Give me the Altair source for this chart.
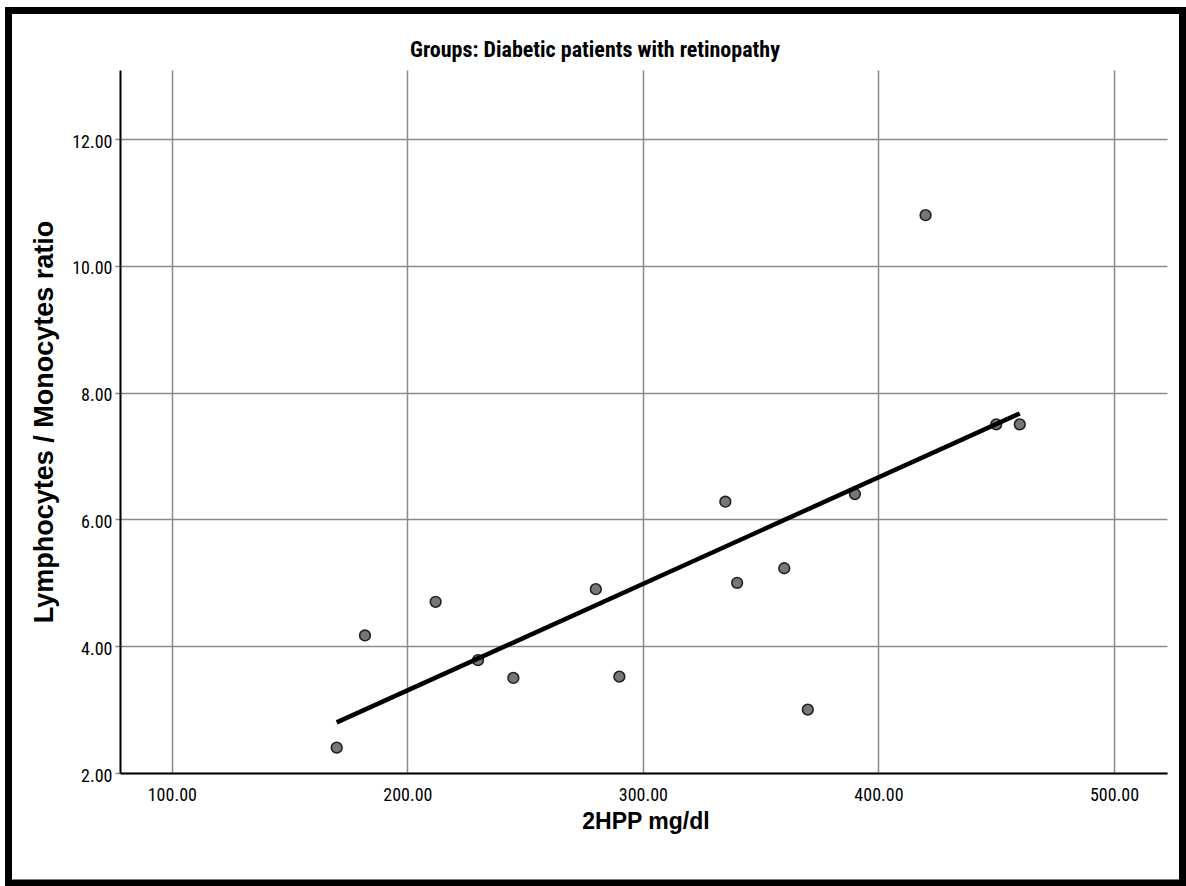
import altair as alt
import pandas as pd

# Data
hpp = [170, 182, 212, 230, 245, 280, 290, 335, 340, 360, 370, 390, 420, 450, 460]
lmr = [2.40, 4.17, 4.70, 3.78, 3.50, 4.90, 3.52, 6.28, 5.00, 5.23, 3.00, 6.40, 10.80, 7.50, 7.50]
x_ticks = [100, 200, 300, 400, 500]
y_ticks = [2, 4, 6, 8, 10, 12]
title_text = "Groups: Diabetic patients with retinopathy"
x_title = "2HPP mg/dl"
y_title = "Lymphocytes / Monocytes ratio"

df = pd.DataFrame({"x": hpp, "y": lmr})

W, H = 1047, 703
NARROW = "Liberation Sans Narrow, Arial Narrow, Roboto Condensed, DejaVu Sans Condensed, Arial, sans-serif"
ARIAL = "Liberation Sans, Arial, Helvetica, sans-serif"

xs = alt.Scale(domain=[78, 522.5], nice=False, zero=False)
ys = alt.Scale(domain=[2, 13.09], nice=False, zero=False)

x_axis = alt.Axis(
    values=x_ticks, format=".2f", grid=True, gridColor="#8a8a8a", gridWidth=1.5,
    domainColor="#000000", domainWidth=2, ticks=False,
    labelFont=NARROW, labelFontSize=18, labelColor="#000000", labelPadding=13,
    title=x_title, titleFont=ARIAL, titleFontSize=23, titleFontWeight="bold",
    titleColor="#000000", titleX=W / 2 + 2, titleY=48, titleBaseline="middle",
    titleAlign="center",
)
y_axis = alt.Axis(
    values=y_ticks, format=".2f", grid=True, gridColor="#8a8a8a", gridWidth=1.5,
    domainColor="#000000", domainWidth=2, ticks=True, tickSize=5,
    tickColor="#8a8a8a", tickWidth=1.5,
    labelFont=NARROW, labelFontSize=18, labelColor="#000000", labelPadding=3,
    labelOffset=3,
    title=y_title, titleFont=ARIAL, titleFontSize=27, titleFontWeight="bold",
    titleColor="#000000", titleX=-76, titleY=H / 2, titleAngle=270,
    titleBaseline="middle", titleAlign="center",
)

base = alt.Chart(df)

points = base.mark_point(
    filled=True, size=115, shape="circle", fill="#777777", stroke="#222222",
    strokeWidth=1.6, opacity=1,
).encode(
    x=alt.X("x:Q", scale=xs, axis=x_axis),
    y=alt.Y("y:Q", scale=ys, axis=y_axis),
)

fit = base.transform_regression("x", "y").mark_line(
    color="#000000", strokeWidth=4.5
).encode(
    x=alt.X("x:Q", scale=xs),
    y=alt.Y("y:Q", scale=ys),
)

title_mark = alt.Chart(pd.DataFrame({"t": [title_text]})).mark_text(
    font=NARROW, fontSize=22, fontWeight="bold", color="#000000",
    align="center", baseline="alphabetic",
).encode(text="t:N", x=alt.value(475), y=alt.value(-13))

frame = alt.Chart(pd.DataFrame({"f": [0]})).mark_rect(
    fill=None, fillOpacity=0, stroke="#000000", strokeWidth=7,
).encode(
    x=alt.value(-111.5), x2=alt.value(1062.5),
    y=alt.value(-59.5), y2=alt.value(813),
)

chart = alt.layer(points, fit, title_mark, frame).properties(
    width=W, height=H,
    padding={"left": 120, "top": 70, "right": 19, "bottom": 113},
    autosize=alt.AutoSizeParams(type="none"),
    background="#ffffff",
).configure_view(stroke=None)

chart.save("out.html", embed_options={"renderer": "svg", "actions": False})
